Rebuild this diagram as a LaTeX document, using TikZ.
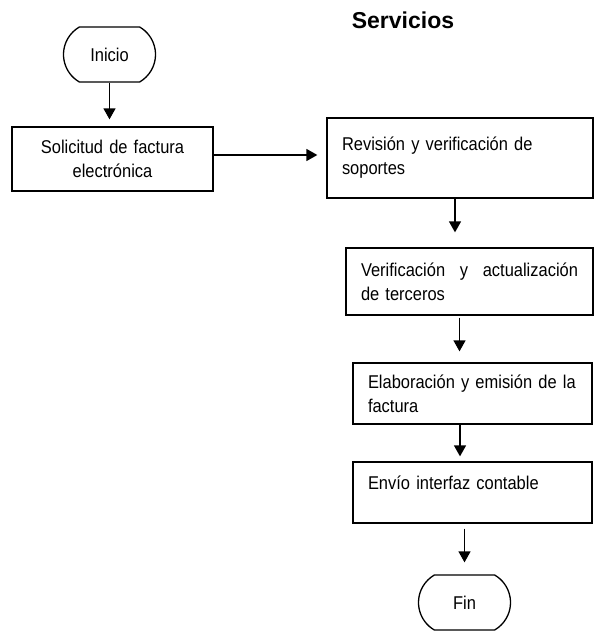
\documentclass[tikz,border=0pt]{standalone}
\usepackage{fontspec}
\setmainfont{Liberation Sans}[FakeStretch=0.89]
\newfontfamily\titulofont{Liberation Sans}
\usetikzlibrary{arrows.meta,shapes.misc}

\begin{document}
\begin{tikzpicture}[x=1pt,y=-1pt,
	caja/.style={draw, line width=1.3pt, inner xsep=15pt, inner ysep=0pt,
		align=left, font=\fontsize{18.5}{24}\selectfont},
	terminal/.style={draw, line width=1.3pt, rounded rectangle,
		rounded rectangle arc length=120, minimum width=92pt, minimum height=55pt,
		inner sep=0pt, font=\fontsize{18.5}{22}\selectfont},
	flecha/.style={line width=1.4pt, -{Triangle[length=11pt,width=12pt]}}]
	
	% ======================================================
	% Frame and title
	% ======================================================
	\useasboundingbox (0,0) rectangle (594,631);
	\node[font=\titulofont\bfseries\fontsize{23}{26}\selectfont] (titulo) at (403,20) {Servicios};
	
	% ======================================================
	% Steps of the flow
	% ======================================================
	\node[terminal] (inicio) at (109.5,54.5) {Inicio};
	
	\node[caja, align=center, text width=171pt, minimum height=64pt] (solicitud)
	at (112.5,159) {Solicitud de factura\\electrónica};
	
	\node[caja, text width=236pt, minimum height=80pt] (revision)
	at (460,158) {Revisión y verificación de\\soportes};
	
	\node[caja, text width=217pt, minimum height=67pt] (verif)
	at (469.5,281.5) {Verificación\hfill y\hfill actualización\\de terceros};
	
	\node[caja, text width=209pt, minimum height=61pt] (elab)
	at (472.5,393.5) {Elaboración y emisión de la\\factura};
	
	\node[caja, text width=209pt, minimum height=61pt] (envio)
	at (472.5,492.5) {Envío interfaz contable\\[-12pt]\strut};
	
	\node[terminal] (fin) at (464.5,602.5) {Fin};
	
	% ======================================================
	% Connectors
	% ======================================================
	\draw[flecha, shorten >=7pt] (inicio.south) -- (inicio.south |- solicitud.north);
	\draw[flecha, shorten >=9pt] ([yshift=4pt]solicitud.east)
	-- ([yshift=4pt]solicitud.east -| revision.west);
	\draw[flecha, shorten >=15pt] ([xshift=-5pt]revision.south)
	-- ([xshift=-5pt]revision.south |- verif.north);
	\draw[flecha, shorten <=2pt, shorten >=11pt] ([xshift=-10pt]verif.south)
	-- ([xshift=-10pt]verif.south |- elab.north);
	\draw[flecha, shorten >=5pt] ([xshift=-12.5pt]elab.south)
	-- ([xshift=-12.5pt]elab.south |- envio.north);
	\draw[flecha, shorten <=5pt, shorten >=12pt] (envio.south -| fin.north) -- (fin.north);
	
\end{tikzpicture}
\end{document}
